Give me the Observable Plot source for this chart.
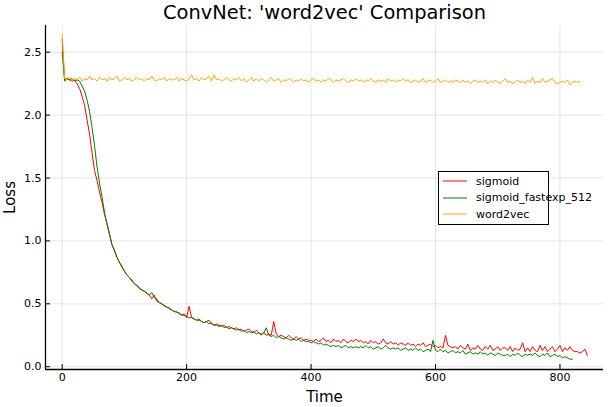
<!DOCTYPE html>
<html>
<head>
<meta charset="utf-8">
<script src="https://cdn.jsdelivr.net/npm/d3@7"></script>
<script src="https://cdn.jsdelivr.net/npm/@observablehq/plot@0.6"></script>
<style>
  body { margin: 0; background: white; }
  #wrap { position: relative; width: 608px; height: 407px; font-family: "DejaVu Sans", sans-serif; }
  #legend { position: absolute; left: 438px; top: 171px; width: 109px; height: 52px; border: 1px solid black; background: white; font-size: 11px; }
  .row { position: absolute; left: 0; height: 16px; display: flex; align-items: center; }
  .row svg { margin-left: 4px; margin-right: 9px; }
</style>
</head>
<body>
<div id="wrap"></div>
<script>
const title = "ConvNet: 'word2vec' Comparison";
const xLabel = "Time";
const yLabel = "Loss";
const STEP = 4; // time units between samples
const xTicks = [0, 200, 400, 600, 800];
const yTicks = [0, 0.5, 1.0, 1.5, 2.0, 2.5];
const seriesNames = ["sigmoid", "sigmoid_fastexp_512", "word2vec"];
const seriesColors = ["#ff0000", "#008000", "#ffa500"];

const sigmoid = [
 2.60, 2.28, 2.29, 2.28, 2.27, 2.28, 2.25, 2.21, 2.15, 2.08,
 1.96, 1.85, 1.70, 1.56, 1.48, 1.39, 1.31, 1.21, 1.14, 1.06,
 0.97, 0.93, 0.87, 0.83, 0.79, 0.76, 0.73, 0.71, 0.68, 0.66,
 0.65, 0.62, 0.61, 0.60, 0.58, 0.57, 0.54, 0.57, 0.52, 0.51,
 0.50, 0.48, 0.48, 0.46, 0.45, 0.44, 0.44, 0.42, 0.41, 0.41,
 0.39, 0.48, 0.39, 0.38, 0.37, 0.38, 0.36, 0.35, 0.36, 0.37,
 0.34, 0.33, 0.34, 0.33, 0.32, 0.33, 0.31, 0.32, 0.31, 0.30,
 0.31, 0.29, 0.30, 0.28, 0.29, 0.30, 0.28, 0.27, 0.29, 0.27,
 0.26, 0.27, 0.25, 0.26, 0.25, 0.36, 0.26, 0.24, 0.25, 0.24,
 0.23, 0.25, 0.23, 0.22, 0.24, 0.22, 0.23, 0.21, 0.22, 0.21,
 0.21, 0.20, 0.22, 0.20, 0.21, 0.23, 0.20, 0.21, 0.19, 0.22,
 0.20, 0.21, 0.19, 0.22, 0.20, 0.19, 0.21, 0.20, 0.22,
 0.20, 0.21, 0.19, 0.20, 0.18, 0.21, 0.19, 0.20, 0.18, 0.19,
 0.22, 0.19, 0.18, 0.20, 0.18, 0.19, 0.17, 0.19, 0.18, 0.17,
 0.19, 0.17, 0.18, 0.16, 0.18, 0.17, 0.19, 0.16, 0.17,
 0.18, 0.16, 0.17, 0.15, 0.16, 0.15, 0.25, 0.17, 0.16, 0.15,
 0.16, 0.14, 0.17, 0.15, 0.14, 0.18, 0.13, 0.15, 0.14, 0.17,
 0.14, 0.13, 0.16, 0.14, 0.17, 0.13, 0.14, 0.16, 0.13, 0.15,
 0.15, 0.13, 0.16, 0.12, 0.15, 0.13, 0.14, 0.19, 0.12,
 0.15, 0.12, 0.16, 0.13, 0.12, 0.17, 0.13, 0.16, 0.12, 0.14,
 0.16, 0.12, 0.14, 0.17, 0.12, 0.15, 0.13, 0.16, 0.13, 0.12,
 0.12, 0.11, 0.12, 0.14, 0.09
];

const sigmoidFastexp = [
 2.50, 2.27, 2.29, 2.28, 2.29, 2.27, 2.28, 2.27, 2.23, 2.19,
 2.12, 2.03, 1.90, 1.76, 1.59, 1.46, 1.35, 1.23, 1.13, 1.05,
 0.97, 0.92, 0.87, 0.83, 0.80, 0.76, 0.73, 0.71, 0.69, 0.66,
 0.64, 0.63, 0.61, 0.60, 0.59, 0.57, 0.59, 0.55, 0.54, 0.51,
 0.50, 0.49, 0.47, 0.47, 0.45, 0.44, 0.43, 0.43, 0.41, 0.42,
 0.40, 0.39, 0.39, 0.38, 0.37, 0.37, 0.36, 0.35, 0.36, 0.34,
 0.35, 0.33, 0.33, 0.32, 0.33, 0.31, 0.32, 0.30, 0.31, 0.30,
 0.29, 0.30, 0.28, 0.29, 0.27, 0.28, 0.27, 0.28, 0.26, 0.27,
 0.25, 0.27, 0.31, 0.25, 0.24, 0.25, 0.23, 0.24, 0.23, 0.22,
 0.23, 0.22, 0.21, 0.22, 0.21, 0.22, 0.20, 0.21, 0.20, 0.20,
 0.19, 0.20, 0.19, 0.18, 0.19, 0.17, 0.18, 0.17, 0.16, 0.17,
 0.16, 0.17, 0.15, 0.16, 0.17, 0.15, 0.16, 0.15, 0.16,
 0.15, 0.16, 0.15, 0.17, 0.15, 0.16, 0.14, 0.15, 0.16, 0.14,
 0.15, 0.17, 0.15, 0.14, 0.15, 0.14, 0.15, 0.13, 0.14, 0.15,
 0.13, 0.14, 0.13, 0.15, 0.13, 0.14, 0.12, 0.13, 0.14, 0.12,
 0.21, 0.13, 0.12, 0.14, 0.12, 0.13, 0.11, 0.12, 0.13, 0.11,
 0.12, 0.11, 0.13, 0.10, 0.11, 0.12, 0.10, 0.11, 0.10, 0.12,
 0.10, 0.11, 0.09, 0.11, 0.10, 0.09, 0.11, 0.10, 0.09,
 0.09, 0.10, 0.08, 0.10, 0.09, 0.11, 0.09, 0.08, 0.10, 0.09,
 0.10, 0.09, 0.11, 0.09, 0.08, 0.10, 0.09, 0.11, 0.08, 0.09,
 0.10, 0.08, 0.09, 0.07, 0.08, 0.07, 0.06, 0.06
];

const word2vec = [
 2.64, 2.29, 2.28, 2.30, 2.27, 2.29, 2.28, 2.30, 2.27, 2.29,
 2.28, 2.31, 2.28, 2.29, 2.27, 2.30, 2.28, 2.29, 2.27, 2.30,
 2.28, 2.29, 2.31, 2.27, 2.28, 2.30, 2.28, 2.29, 2.27, 2.28,
 2.30, 2.28, 2.29, 2.27, 2.29, 2.28, 2.31, 2.28, 2.27, 2.29,
 2.28, 2.30, 2.27, 2.29, 2.28, 2.28, 2.30, 2.27, 2.29, 2.28,
 2.27, 2.29, 2.32, 2.28, 2.29, 2.27, 2.30, 2.28, 2.29, 2.31,
 2.27, 2.32, 2.28, 2.29, 2.27, 2.28, 2.30, 2.28, 2.27, 2.29,
 2.28, 2.30, 2.27, 2.29, 2.26, 2.28, 2.30, 2.27, 2.29,
 2.27, 2.29, 2.28, 2.26, 2.28, 2.30, 2.27, 2.28, 2.29, 2.26,
 2.28, 2.27, 2.29, 2.28, 2.26, 2.28, 2.27, 2.29, 2.27, 2.28,
 2.26, 2.28, 2.29, 2.27, 2.28, 2.26, 2.28, 2.27, 2.29, 2.28,
 2.26, 2.28, 2.27, 2.28, 2.29, 2.27, 2.26, 2.28, 2.27, 2.29,
 2.27, 2.28, 2.26, 2.28, 2.27, 2.29, 2.27, 2.26, 2.28, 2.27,
 2.28, 2.26, 2.29, 2.27, 2.28, 2.26, 2.28, 2.27, 2.29,
 2.27, 2.28, 2.26, 2.27, 2.28, 2.26, 2.27, 2.29, 2.26, 2.27,
 2.28, 2.26, 2.27, 2.29, 2.26, 2.27, 2.28, 2.26, 2.27, 2.26,
 2.28, 2.27, 2.26, 2.28, 2.26, 2.27, 2.25, 2.27, 2.28, 2.26,
 2.27, 2.26, 2.28, 2.25, 2.27, 2.26, 2.28, 2.26, 2.25,
 2.27, 2.29, 2.26, 2.27, 2.25, 2.26, 2.28, 2.26, 2.27, 2.25,
 2.28, 2.26, 2.30, 2.25, 2.27, 2.26, 2.29, 2.26, 2.27, 2.28,
 2.29, 2.26, 2.25, 2.26, 2.27, 2.26, 2.28, 2.24, 2.26, 2.27,
 2.26, 2.27
];

const seriesValues = [sigmoid, sigmoidFastexp, word2vec];
const rows = seriesValues.map(vals => vals.map((v, i) => ({t: i * STEP, loss: v})));

const xDomain = [-26.8, 870];
const yDomain = [-0.022, 2.712];

const chart = Plot.plot({
  width: 608,
  height: 407,
  marginTop: 25,
  marginLeft: 45,
  marginRight: 5,
  marginBottom: 38,
  style: {fontFamily: "DejaVu Sans, sans-serif", fontSize: "11px", background: "white", color: "black"},
  x: {domain: xDomain},
  y: {domain: yDomain},
  marks: [
    Plot.gridX(xTicks, {stroke: "black", strokeOpacity: 0.1}),
    Plot.gridY(yTicks, {stroke: "black", strokeOpacity: 0.1}),
    ...rows.map((r, i) => Plot.line(r, {x: "t", y: "loss", stroke: seriesColors[i], strokeWidth: 1})),
    Plot.ruleX([xDomain[0]], {stroke: "black", strokeWidth: 1.3}),
    Plot.ruleY([yDomain[0]], {stroke: "black", strokeWidth: 1.6}),
    Plot.axisX(xTicks, {tickSize: -5, tickPadding: 9, label: null, fontSize: 11}),
    Plot.axisY(yTicks, {tickSize: -5, tickPadding: 9, label: null, tickFormat: d3.format(".1f"), fontSize: 11}),
    Plot.text([title], {frameAnchor: "top", lineAnchor: "middle", dy: -13, fontSize: 19.4, fill: "black"}),
    Plot.text([xLabel], {frameAnchor: "bottom", lineAnchor: "middle", dy: 28, fontSize: 15, fill: "black"}),
    Plot.text([yLabel], {frameAnchor: "left", textAnchor: "middle", lineAnchor: "middle", dx: -35, rotate: -90, fontSize: 15, fill: "black"})
  ]
});

const wrap = document.getElementById("wrap");
wrap.appendChild(chart);

const legend = document.createElement("div");
legend.id = "legend";
seriesNames.forEach((name, i) => {
  const row = document.createElement("div");
  row.className = "row";
  row.style.top = (1 + i * 16.5) + "px";
  row.innerHTML = `<svg width="24" height="4"><line x1="0" x2="24" y1="2" y2="2" stroke="${seriesColors[i]}" stroke-width="1"/></svg><span>${name}</span>`;
  legend.appendChild(row);
});
wrap.appendChild(legend);
</script>
</body>
</html>
